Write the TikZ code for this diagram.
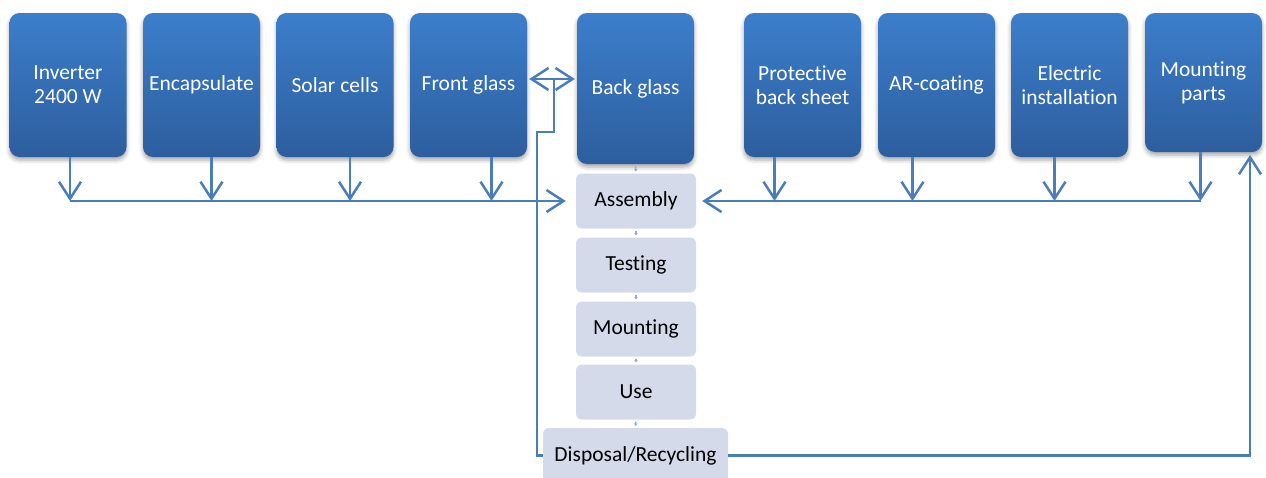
\documentclass[tikz,border=0pt]{standalone}
\usepackage{fontspec}
\setmainfont{Carlito}[Ligatures=NoCommon]
\usetikzlibrary{arrows.meta,shadows.blur,calc}

\definecolor{boxtop}{RGB}{60,126,203}
\definecolor{boxbottom}{RGB}{45,94,158}
\definecolor{stepfill}{RGB}{212,218,234}
\definecolor{flow}{RGB}{74,126,187}
\definecolor{tick}{RGB}{150,170,210}

\tikzset{
  srcbox/.style={rounded corners=10pt, minimum width=117pt, minimum height=144pt,
    top color=boxtop, bottom color=boxbottom, draw=none, text=white,
    align=center, font=\fontsize{21.5}{24}\selectfont, inner sep=2pt,
    blur shadow={shadow xshift=0pt, shadow yshift=-3pt, shadow blur radius=4pt, shadow opacity=35}},
  stagebox/.style={rounded corners=6pt, minimum width=120pt, minimum height=55pt,
    fill=stepfill, draw=none, text=black, align=center,
    font=\fontsize{21.5}{24}\selectfont},
  flowline/.style={draw=flow, line width=2.5pt},
  barb/.style={-{Straight Barb[length=17pt,width=22pt]}},
  barbs/.style={{Straight Barb[length=17pt,width=22pt]}-{Straight Barb[length=17pt,width=22pt]}},
  link/.style={draw=tick, line width=1.4pt, -{Stealth[length=2.5pt,width=4pt]}, shorten <=2pt, shorten >=2pt}
}

\begin{document}
\begin{tikzpicture}[x=1pt, y=-1pt]
\useasboundingbox (0,0) rectangle (1266,477);

% input materials and components
\node[srcbox] (inv)    at (68,85)     {Inverter\\2400 W};
\node[srcbox] (enc)    at (201.5,85)  {Encapsulate};
\node[srcbox] (cells)  at (335,85)    {Solar cells};
\node[srcbox] (fglass) at (468.5,85)  {Front glass};
\node[srcbox, minimum height=151pt] (bglass) at (635.5,88.5) {Back glass};
\node[srcbox] (sheet)  at (802.5,85)  {Protective\\back sheet};
\node[srcbox] (arc)    at (936.5,85)  {AR-coating};
\node[srcbox] (elec)   at (1069.5,85) {Electric\\installation};
\node[srcbox, minimum height=139pt] (mparts) at (1203.5,82.5) {Mounting\\parts};

% life-cycle stages
\node[stagebox] (asm)   at (636,201)   {Assembly};
\node[stagebox] (test)  at (636,265)   {Testing};
\node[stagebox] (mount) at (636,329)   {Mounting};
\node[stagebox] (use)   at (636,392)   {Use};
\node[stagebox, minimum width=185pt] (disp) at (635.5,455.5) {Disposal/Recycling};

% small links down the stage column
\draw[link] (bglass.south) -- (asm.north);
\draw[link] (asm.south) -- (test.north);
\draw[link] (test.south) -- (mount.north);
\draw[link] (mount.south) -- (use.north);
\draw[link] (use.south) -- (disp.north);

% feeders from the left
\draw[flowline, barb] ([xshift=2pt]inv.south)     -- ([xshift=2pt]inv.south |- asm.west);
\draw[flowline, barb] ([xshift=10pt]enc.south)    -- ([xshift=10pt]enc.south |- asm.west);
\draw[flowline, barb] ([xshift=15pt]cells.south)  -- ([xshift=15pt]cells.south |- asm.west);
\draw[flowline, barb] ([xshift=23pt]fglass.south) -- ([xshift=23pt]fglass.south |- asm.west);
\draw[flowline, barb, shorten >=10pt] ([xshift=2pt]inv.south |- asm.west) -- (asm.west);

% feeders from the right
\draw[flowline, barb] ([xshift=-28pt]sheet.south) -- ([xshift=-28pt]sheet.south |- asm.east);
\draw[flowline, barb] ([xshift=-24pt]arc.south)   -- ([xshift=-24pt]arc.south |- asm.east);
\draw[flowline, barb] ([xshift=-15pt]elec.south)  -- ([xshift=-15pt]elec.south |- asm.east);
\draw[flowline, barb] ([xshift=-3pt]mparts.south) -- ([xshift=-3pt]mparts.south |- asm.east);
\draw[flowline, barb, shorten >=6pt] ([xshift=-3pt]mparts.south |- asm.east) -- (asm.east);

% recycling loop back to the glass
\coordinate (gl)  at (554,79);
\coordinate (fb1) at (537,132);
\draw[flowline, barbs, shorten <=2pt, shorten >=2pt] (fglass.east |- gl) -- (bglass.west |- gl);
\draw[flowline] (disp.west) -| (fb1) -| (gl);

% recycling loop back to the mounting parts
\coordinate (rf) at (1250,155);
\draw[flowline, barb] (disp.east) -| (rf);
\end{tikzpicture}
\end{document}
